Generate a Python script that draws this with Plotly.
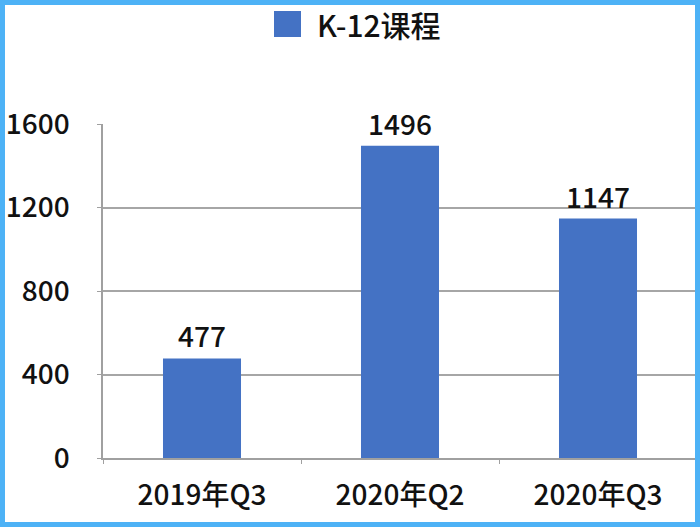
import plotly.graph_objects as go

categories = ["2019年Q3", "2020年Q2", "2020年Q3"]
values = [477, 1496, 1147]
series_name = "K-12课程"
y_ticks = [0, 400, 800, 1200, 1600]

BAR = "#4472C4"
FONT = "Noto Sans CJK SC"
WEIGHT = 500

fig = go.Figure()
fig.add_trace(go.Bar(
    x=categories, y=values, name=series_name,
    marker=dict(color=BAR, line=dict(width=0)),
    text=[str(v) for v in values], textposition="outside",
    textfont=dict(size=28, color="#111111", family=FONT, weight=WEIGHT),
    cliponaxis=False, showlegend=False,
))

W, H = 700, 531
L, R, T, B = 103, 3, 124, 73
pw, ph = W - L - R, H - T - B

def px(x):
    return (x - L) / pw

def py(y):
    return (H - B - y) / ph

fig.update_layout(
    width=W, height=H,
    margin=dict(l=L, r=R, t=T, b=B),
    paper_bgcolor="white", plot_bgcolor="white",
    bargap=0.606,
    font=dict(family=FONT, color="#111111"),
    xaxis=dict(
        showgrid=False, showline=True, linecolor="#A0A0A0", linewidth=1.5,
        ticks="outside", tickson="boundaries", ticklen=4, tickcolor="#A0A0A0",
        tickfont=dict(size=28, family=FONT, color="#111111", weight=WEIGHT),
        ticklabelstandoff=12, automargin=False,
    ),
    yaxis=dict(
        range=[0, 1600], tickvals=y_ticks,
        showgrid=True, gridcolor="#A6A6A6", gridwidth=1.5,
        showline=True, linecolor="#A0A0A0", linewidth=1.5,
        ticks="outside", ticklen=4, tickcolor="#A0A0A0",
        tickfont=dict(size=28, family=FONT, color="#111111", weight=WEIGHT),
        ticklabelstandoff=22, zeroline=False, automargin=False,
    ),
    shapes=[
        dict(type="rect", xref="paper", yref="paper",
             x0=px(274), x1=px(301), y0=py(37), y1=py(11),
             fillcolor=BAR, line=dict(width=0)),
        dict(type="rect", xref="paper", yref="paper",
             x0=px(2.5), x1=px(697.5), y0=py(524.5), y1=py(2.5),
             line=dict(color="#4DB2F6", width=5), fillcolor="rgba(0,0,0,0)",
             layer="above"),
    ],
    annotations=[
        dict(text=series_name, xref="paper", yref="paper",
             x=px(315), y=py(24), xanchor="left", yanchor="middle",
             showarrow=False,
             font=dict(size=30, family=FONT, color="#111111", weight=WEIGHT)),
    ],
)

fig.write_html("out.html", config={"displayModeBar": False},
               post_script="document.body.style.margin='0';")
